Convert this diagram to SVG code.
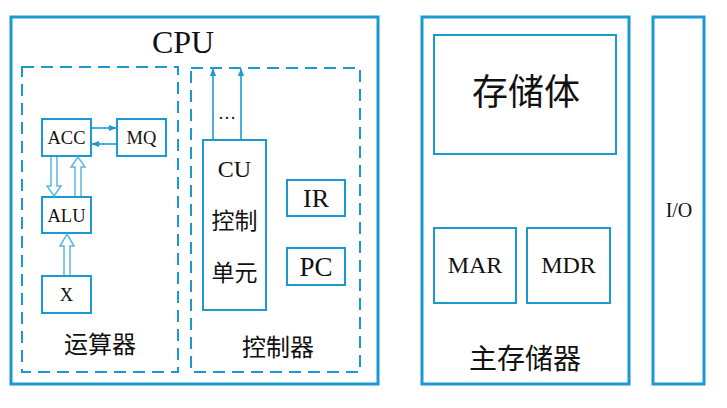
<svg xmlns="http://www.w3.org/2000/svg" width="727" height="408" viewBox="0 0 727 408">
<defs>
<style>
.outer{fill:none;stroke:#1b9ad2;stroke-width:3}
.box{fill:#fff;stroke:#1b9ad2;stroke-width:2}
.dash{fill:none;stroke:#1b9ad2;stroke-width:2;stroke-dasharray:12 7}
.thin{fill:none;stroke:#1b9ad2;stroke-width:1.6}
.hollow{fill:#fff;stroke:#5bb8e0;stroke-width:1.5}
.en{font-family:"Liberation Serif",serif;fill:#111;text-anchor:middle}
.zh{font-family:"Liberation Serif","Noto Sans CJK SC",serif;fill:#111;text-anchor:middle}
</style>
<marker id="ah" viewBox="0 0 10 10" refX="9" refY="5" markerWidth="5" markerHeight="5" orient="auto">
<path d="M0,1 L10,5 L0,9 Z" fill="#1b9ad2"/>
</marker>
</defs>
<rect x="0" y="0" width="727" height="408" fill="#fff"/>
<g id="cpu">
<rect class="outer" x="11" y="17" width="367" height="367"/>
<text class="en" x="183" y="53" font-size="32">CPU</text>
</g>
<g id="alu-unit">
<rect class="dash" x="22" y="67" width="156" height="305"/>
<text class="zh" x="100" y="353" font-size="24">运算器</text>
</g>
<g id="ctrl-unit">
<rect class="dash" x="191" y="68" width="169" height="304"/>
<text class="zh" x="278" y="356" font-size="24">控制器</text>
</g>
<g id="acc">
<rect class="box" x="42" y="119" width="49" height="37"/>
<text class="en" x="66.5" y="144" font-size="18.5">ACC</text>
</g>
<g id="mq">
<rect class="box" x="117" y="119" width="49" height="37"/>
<text class="en" x="141.5" y="144" font-size="18.5">MQ</text>
</g>
<g id="alu">
<rect class="box" x="42" y="197" width="49" height="36"/>
<text class="en" x="66.5" y="221.5" font-size="18.5">ALU</text>
</g>
<g id="x">
<rect class="box" x="42" y="276" width="49" height="37"/>
<text class="en" x="66.5" y="301" font-size="18.5">X</text>
</g>
<g id="cu">
<rect class="box" x="203" y="140" width="63" height="170"/>
<text class="en" x="234.5" y="177" font-size="24">CU</text>
<text class="zh" x="234.5" y="229" font-size="23">控制</text>
<text class="zh" x="234.5" y="281" font-size="23">单元</text>
</g>
<g id="ir">
<rect class="box" x="287" y="180" width="58" height="36"/>
<text class="en" x="316" y="207" font-size="26">IR</text>
</g>
<g id="pc">
<rect class="box" x="287" y="248" width="58" height="37"/>
<text class="en" x="316" y="276" font-size="27">PC</text>
</g>
<g id="main-memory">
<rect class="outer" x="422" y="17" width="207" height="367"/>
<text class="zh" x="525" y="369" font-size="28">主存储器</text>
</g>
<g id="storage">
<rect class="box" x="434" y="35" width="182" height="119"/>
<text class="zh" x="526" y="105" font-size="36">存储体</text>
</g>
<g id="mar">
<rect class="box" x="434" y="228" width="82" height="75"/>
<text class="en" x="475" y="273" font-size="24">MAR</text>
</g>
<g id="mdr">
<rect class="box" x="527" y="228" width="83" height="75"/>
<text class="en" x="568.5" y="273" font-size="24">MDR</text>
</g>
<g id="io">
<rect class="outer" x="653" y="17" width="51" height="367"/>
<text class="en" x="679" y="217" font-size="20">I/O</text>
</g>
<g id="connectors">
<line class="thin" x1="91" y1="128" x2="116" y2="128" marker-end="url(#ah)"/>
<line class="thin" x1="117" y1="144" x2="92" y2="144" marker-end="url(#ah)"/>
<path class="hollow" d="M51,157 L51,186 L47,186 L54,196 L61,186 L57,186 L57,157"/>
<path class="hollow" d="M75,196 L75,167 L71,167 L78,157 L85,167 L81,167 L81,196"/>
<path class="hollow" d="M64,275 L64,246 L60,246 L67,234 L74,246 L70,246 L70,275"/>
<line class="thin" x1="213" y1="140" x2="213" y2="69" marker-end="url(#ah)"/>
<line class="thin" x1="241" y1="140" x2="241" y2="69" marker-end="url(#ah)"/>
<text class="en" x="227" y="119" font-size="18">…</text>
</g>
</svg>
